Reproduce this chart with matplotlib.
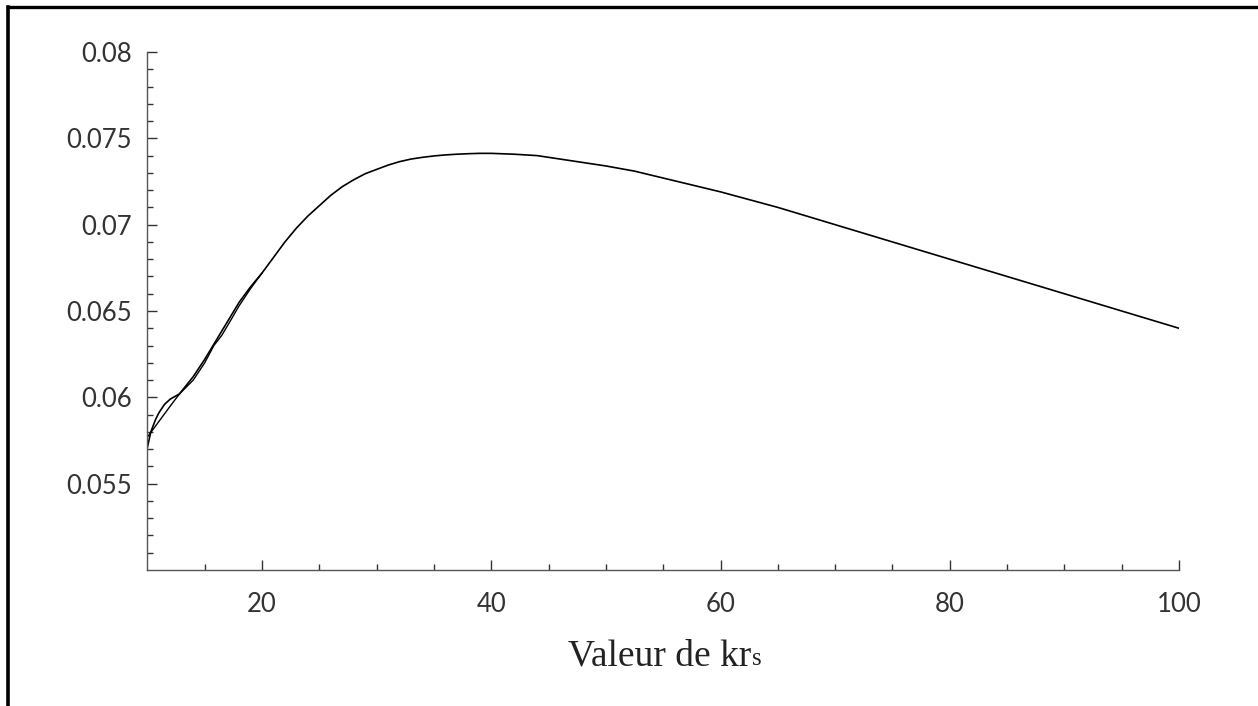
import numpy as np
import matplotlib.pyplot as plt
from matplotlib.lines import Line2D
from matplotlib.ticker import FixedLocator

# values
# curve 1 (the one that bulges near the start)
k1 = [10, 10.3, 10.7, 11, 11.5, 12, 12.8, 14, 15, 16, 17, 18, 19, 20,
      21, 22, 23, 24, 25, 26, 27, 28, 29, 30, 31, 32, 33, 34, 35, 36, 37, 38,
      39, 40, 42, 44, 46, 48, 50, 52.5, 55, 57.5, 60, 65,
      70, 75, 80, 85, 90, 95, 100]
v1 = [0.0571, 0.0580, 0.0587, 0.0591, 0.0596, 0.0599, 0.0602, 0.0612, 0.0622,
      0.0633, 0.0644, 0.0655, 0.0664, 0.0672,
      0.0681, 0.0690, 0.0698, 0.0705, 0.0711, 0.0717, 0.0722, 0.0726, 0.07295,
      0.0732, 0.07345, 0.07365, 0.0738, 0.0739, 0.07398, 0.07404, 0.07408, 0.07411,
      0.07413, 0.07413, 0.07408, 0.0740, 0.0738, 0.0736, 0.0734, 0.0731, 0.0727,
      0.0723, 0.0719, 0.0710,
      0.0700, 0.0690, 0.0680, 0.0670, 0.0660, 0.0650, 0.0640]
# curve 2 (the straighter one, merges with curve 1 after ~20)
k2 = [10, 11, 12, 12.8, 14, 15, 15.8, 16.5, 17.3, 18, 19, 20]
v2 = [0.0577, 0.0586, 0.0595, 0.0602, 0.0610, 0.0620, 0.0630, 0.0636, 0.0645,
      0.0653, 0.0663, 0.0672]

xlabel = 'Valeur de kr'
xlabel_sub = 's'

W, H = 1258, 706
fig = plt.figure(figsize=(W / 100, H / 100), dpi=100)
ax = fig.add_axes([147.4 / W, (H - 570) / H, (1179 - 147.4) / W, (570 - 52) / H])

ax.plot(k1, v1, color='black', lw=1.2)
ax.plot(k2, v2, color='black', lw=1.0)

ax.set_xlim(10, 100)
ax.set_ylim(0.05, 0.08)
for s in ['top', 'right']:
    ax.spines[s].set_visible(False)
for s in ['left', 'bottom']:
    ax.spines[s].set_color('#555555')
    ax.spines[s].set_linewidth(1.0)

ax.xaxis.set_major_locator(FixedLocator([20, 40, 60, 80, 100]))
ax.xaxis.set_minor_locator(FixedLocator([15, 25, 30, 35, 45, 50, 55, 65, 70, 75, 85, 90, 95]))
ax.yaxis.set_major_locator(FixedLocator([0.055, 0.06, 0.065, 0.07, 0.075, 0.08]))
ax.yaxis.set_minor_locator(FixedLocator([0.05 + 0.001 * i for i in range(1, 30) if i % 5]))
ax.set_yticklabels(['0.055', '0.06', '0.065', '0.07', '0.075', '0.08'])
ax.set_xticklabels(['20', '40', '60', '80', '100'])

ax.tick_params(which='major', direction='in', length=7, width=1.0, color='#333333')
ax.tick_params(which='minor', direction='in', length=4.5, width=1.0, color='#333333')
ax.tick_params(axis='y', which='major', pad=11)
ax.tick_params(axis='x', which='major', pad=16)
for lab in ax.get_xticklabels() + ax.get_yticklabels():
    lab.set_fontfamily('Lato')
    lab.set_fontweight('normal')
    lab.set_fontsize(18.5)
    lab.set_color('#333333')

# x label with small "s"
t = fig.text(568 / W, 1 - 665 / H, xlabel, family='Liberation Serif', fontsize=27,
             color='#222222', ha='left', va='baseline')
fig.canvas.draw()
bb = t.get_window_extent()
fig.text(bb.x1 / W + 1 / W, 1 - 665 / H, xlabel_sub, family='Liberation Serif',
         fontsize=18, color='#222222', ha='left', va='baseline')

# frame lines (left and top)
fig.add_artist(Line2D([7.5 / W, 7.5 / W], [0, 1 - 7 / H], transform=fig.transFigure,
                      color='black', lw=2.6))
fig.add_artist(Line2D([7.5 / W, 1], [1 - 7 / H, 1 - 7 / H], transform=fig.transFigure,
                      color='black', lw=2.4))

fig.savefig('out.png', dpi=100)
